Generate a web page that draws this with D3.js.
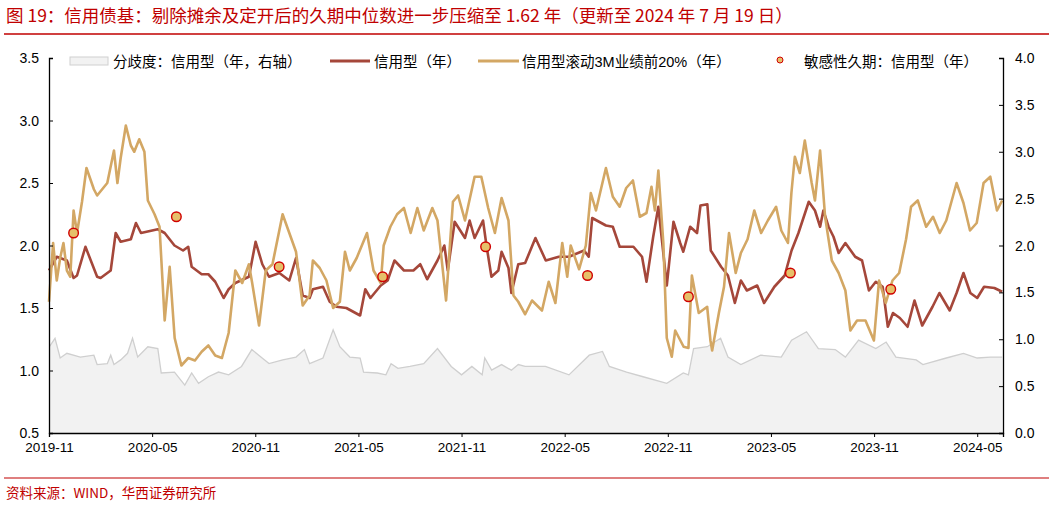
<!DOCTYPE html>
<html><head><meta charset="utf-8">
<script src="https://cdn.jsdelivr.net/npm/d3@7"></script>
<style>body{margin:0;background:#fff}svg{display:block;font-family:"Liberation Sans",Arial,"Noto Sans CJK SC",sans-serif}</style>
</head><body><svg id="c" width="1053" height="508"></svg>
<script>
// months since 2019-11
const xTickMonths = [0,6,12,18,24,30,36,42,48,54];
const xTickLabels = ["2019-11","2020-05","2020-11","2021-05","2021-11","2022-05","2022-11","2023-05","2023-11","2024-05"];
const leftTicks = [0.5,1.0,1.5,2.0,2.5,3.0,3.5];
const rightTicks = [0.0,0.5,1.0,1.5,2.0,2.5,3.0,3.5,4.0];

const creditMonths = [0,0.45,1.04,1.43,1.63,2.12,2.8,3.0,3.59,3.88,4.17,4.76,5.06,5.35,6.33,6.73,7.3,7.8,8.1,8.3,8.88,9.27,9.67,10.16,10.45,10.84,11.63,12.02,12.41,12.8,13.4,13.98,14.37,14.76,15.16,15.35,15.94,16.33,16.73,17.3,18.1,18.4,18.7,19.3,19.7,20.1,20.65,21.2,21.6,22.0,22.6,23.0,23.2,23.6,24.2,24.47,24.76,25.25,25.45,25.74,26.14,26.33,26.73,26.9,27.3,
27.7,28.3,28.9,29.66,30.25,31.13,31.4,31.6,32.4,32.8,33.2,34.0,34.5,34.76,35.15,35.45,35.94,36.33,36.72,36.9,37.3,37.7,37.9,38.3,38.5,39.1,39.5,39.9,40.25,40.6,41.2,41.6,42.2,42.8,43.2,43.6,44.2,44.56,44.86,45.05,45.35,45.64,45.94,46.33,46.9,47.3,47.7,48.1,48.5,48.8,49.1,49.5,49.95,50.35,50.8,51.4,51.8,52.4,52.8,53.2,53.6,54.0,54.4,55.0,55.45];
const creditValues = [1.80,1.91,1.88,1.74,1.76,1.99,1.75,1.74,1.8,2.1,2.03,2.05,2.18,2.1,2.13,2.1,2.0,1.96,1.99,1.83,1.77,1.77,1.71,1.58,1.65,1.7,1.75,2.03,1.85,1.75,1.78,1.72,1.9,1.6,1.58,1.65,1.67,1.55,1.51,1.5,1.44,1.65,1.58,1.68,1.72,1.88,1.8,1.8,1.85,1.73,1.88,2.0,1.8,2.19,2.06,2.2,2.06,2.2,2.0,1.75,1.8,1.95,1.82,1.62,1.85,
1.86,2.06,1.88,1.91,1.91,1.96,1.91,2.22,2.16,2.15,1.99,1.99,1.91,1.71,2.07,2.31,1.68,2.19,2.02,1.95,2.15,2.1,2.32,2.33,1.96,1.83,1.76,1.54,1.72,1.64,1.68,1.54,1.67,1.76,1.96,2.1,2.35,2.28,2.15,2.28,2.15,2.07,1.94,2.02,1.91,1.88,1.64,1.71,1.67,1.35,1.46,1.42,1.35,1.56,1.36,1.51,1.62,1.48,1.62,1.78,1.62,1.58,1.67,1.66,1.63];

const topMonths = [0,0.24,0.45,0.65,0.84,1.04,1.24,1.43,1.63,1.92,2.18,2.61,2.8,3.39,3.78,3.98,4.17,4.47,4.76,4.96,5.25,5.55,5.75,6.14,6.43,6.73,7.02,7.31,7.7,8.1,8.49,8.88,9.27,9.67,10.06,10.45,10.84,11.24,11.63,11.82,12.22,12.61,13.0,13.59,13.98,14.37,14.76,15.16,15.35,15.75,16.14,16.53,16.92,17.22,17.5,17.9,18.5,18.88,19.3,19.47,19.86,20.25,20.65,21.04,21.43,21.8,22.3,22.6,23.1,23.5,23.8,24.2,24.76,25.15,25.55,25.94,26.33,26.73,27.02,27.3,27.7,
28.1,28.68,29.07,29.46,29.86,30.15,30.35,30.84,31.23,31.52,31.82,32.4,32.8,33.2,33.58,33.97,34.37,34.76,35.05,35.25,35.45,35.74,35.94,36.23,36.43,36.92,37.2,37.4,37.8,38.29,38.48,38.58,38.97,39.27,39.56,39.95,40.25,40.64,41.03,41.43,41.82,42.3,42.6,42.99,43.19,43.39,43.68,43.97,44.37,44.56,44.86,45.15,45.54,45.94,46.33,46.62,47.01,47.5,47.99,48.29,48.68,49.07,49.46,49.86,50.15,50.54,51.03,51.43,51.82,52.2,52.8,53.2,53.58,53.97,54.37,54.76,55.15,55.45];
const topValues = [1.55,2.02,1.72,1.9,2.02,1.8,1.75,2.28,2.1,2.35,2.62,2.45,2.4,2.5,2.76,2.5,2.7,2.96,2.8,2.75,2.85,2.75,2.36,2.25,2.15,1.4,1.83,1.26,1.04,1.1,1.08,1.15,1.2,1.12,1.1,1.3,1.8,1.7,1.85,1.7,1.36,1.8,1.85,2.25,2.1,1.95,1.52,1.6,1.88,1.82,1.72,1.5,1.55,1.95,1.8,1.9,2.1,1.8,1.7,2.0,2.15,2.25,2.3,2.1,2.3,2.12,2.3,2.2,1.56,2.35,2.4,2.2,2.55,2.55,2.3,2.1,2.38,2.2,1.6,1.55,1.45,
1.56,1.48,1.71,1.54,2.02,1.75,2.0,1.81,2.0,2.42,2.28,2.62,2.39,2.31,2.46,2.52,2.23,2.26,2.47,2.28,2.6,2.02,1.26,1.11,1.32,1.19,1.18,1.76,1.46,1.51,1.24,1.16,1.46,1.67,2.1,1.78,1.94,2.05,2.28,2.1,2.2,2.31,2.12,2.02,2.42,2.71,2.58,2.84,2.5,2.36,2.76,2.23,1.88,1.78,1.64,1.32,1.4,1.4,1.24,1.72,1.54,1.72,1.78,2.05,2.31,2.36,2.15,2.23,2.1,2.2,2.5,2.34,2.12,2.18,2.5,2.55,2.28,2.36];

const divMonths = [0.02,0.35,0.65,1.04,1.82,2.61,2.8,3.39,3.59,3.78,4.17,4.57,4.86,5.16,5.75,6.33,6.53,7.3,7.9,8.3,8.7,9.27,9.86,10.45,11.2,11.8,12.4,12.8,13.6,14.37,14.86,15.16,15.94,16.53,16.92,17.5,18.1,18.3,19.1,19.6,19.9,20.3,21.0,21.8,22.6,23.4,24.0,24.6,25.2,25.35,25.75,26.33,26.9,27.3,
27.7,28.88,30.25,31.43,32.2,32.6,33.6,34.56,35.94,36.9,37.2,37.5,38.3,39.07,39.5,40.25,41.4,42.6,43.2,44.07,44.76,45.74,46.33,47.1,48.1,48.7,49.27,50.45,50.84,52.2,53.2,54.0,54.76,55.45];
const divValues = [0.92,1.01,0.80,0.85,0.81,0.83,0.73,0.74,0.83,0.73,0.78,0.85,1.01,0.81,0.92,0.90,0.64,0.65,0.51,0.64,0.53,0.60,0.65,0.62,0.71,0.89,0.80,0.74,0.78,0.81,0.89,0.74,0.80,1.10,0.92,0.81,0.80,0.65,0.64,0.62,0.74,0.69,0.71,0.74,0.90,0.71,0.62,0.71,0.62,0.80,0.67,0.73,0.67,0.73,
0.71,0.71,0.62,0.83,0.87,0.71,0.65,0.60,0.53,0.64,0.62,0.90,0.92,1.01,0.81,0.73,0.83,0.81,0.99,1.08,0.90,0.89,0.81,0.99,0.90,0.97,0.81,0.78,0.73,0.80,0.85,0.80,0.81,0.81];

const sensMonths = [1.43,7.41,13.39,19.41,25.4,31.33,37.2,43.13,48.97];
const sensValues = [2.10,2.23,1.83,1.75,1.99,1.76,1.59,1.78,1.65];

const legendLabels = ["分歧度：信用型（年，右轴）","信用型（年）","信用型滚动3M业绩前20%（年）","敏感性久期：信用型（年）"];

const svg = d3.select("#c");
const L=49,R=1003,T=58,B=433;
const x = d3.scaleLinear().domain([0,55.5]).range([L,R]);
const y = d3.scaleLinear().domain([0.5,3.5]).range([B,T]);
const y2 = d3.scaleLinear().domain([0,4]).range([B,T]);
const RED="#c00000";

svg.append("text").attr("x",6).attr("y",22).attr("fill",RED).attr("font-size",17.5)
  .attr("font-family","'Noto Sans CJK SC',sans-serif").text("图 19：信用债基：剔除摊余及定开后的久期中位数进一步压缩至 1.62 年（更新至 2024 年 7 月 19 日）");
svg.append("line").attr("x1",4).attr("x2",1049).attr("y1",34).attr("y2",34).attr("stroke",RED).attr("stroke-width",1.5);
svg.append("line").attr("x1",4).attr("x2",1049).attr("y1",478).attr("y2",478).attr("stroke",RED).attr("stroke-width",1.2);
svg.append("text").attr("x",6).attr("y",498).attr("fill",RED).attr("font-size",13.5)
  .attr("font-family","'Noto Sans CJK SC',sans-serif").text("资料来源：WIND，华西证券研究所");

// area
const divData = divMonths.map((m,i)=>[m,divValues[i]]);
svg.append("path").datum(divData).attr("fill","#f2f2f2").attr("stroke","none")
  .attr("d",d3.area().x(d=>x(d[0])).y0(B).y1(d=>y2(d[1])));
svg.append("path").datum(divData).attr("fill","none").attr("stroke","#cfcfcf").attr("stroke-width",1.3)
  .attr("d",d3.line().x(d=>x(d[0])).y(d=>y2(d[1])));

const line = d3.line().x(d=>x(d[0])).y(d=>y(d[1]));
svg.append("path").datum(creditMonths.map((m,i)=>[m,creditValues[i]])).attr("fill","none").attr("stroke","#a5473a").attr("stroke-width",2.6).attr("stroke-linejoin","round").attr("d",line);
svg.append("path").datum(topMonths.map((m,i)=>[m,topValues[i]])).attr("fill","none").attr("stroke","#d3a764").attr("stroke-width",2.6).attr("stroke-linejoin","round").attr("d",line);
svg.selectAll("circle.s").data(sensMonths).join("circle").attr("cx",d=>x(d)).attr("cy",(d,i)=>y(sensValues[i])).attr("r",4.8)
  .attr("fill","#e6c06a").attr("stroke","#d00000").attr("stroke-width",1.4);

// axes
const ga = svg.append("g").attr("transform",`translate(${L},0)`).call(d3.axisRight(y).tickValues(leftTicks).tickSize(4));
ga.selectAll(".tick text").remove();
ga.selectAll("text.l").data(leftTicks).join("text").attr("class","l").attr("fill","#000").attr("x",-10).attr("y",d=>y(d)+5).attr("text-anchor","end").attr("font-size",14).text(d3.format(".1f"));
const gr = svg.append("g").attr("transform",`translate(${R},0)`).call(d3.axisLeft(y2).tickValues(rightTicks).tickSize(4));
gr.selectAll(".tick text").remove();
gr.selectAll("text.r").data(rightTicks).join("text").attr("class","r").attr("fill","#000").attr("x",12).attr("y",d=>y2(d)+5).attr("text-anchor","start").attr("font-size",14).text(d3.format(".1f"));
const gb = svg.append("g").attr("transform",`translate(0,${B})`).call(d3.axisBottom(x).tickValues(xTickMonths).tickSize(4).tickFormat((d,i)=>xTickLabels[i]));
gb.selectAll("text").attr("font-size",13.5).attr("dy","0.9em").attr("fill","#000");
[ga,gr,gb].forEach(g=>{g.select(".domain").attr("stroke","#000").attr("stroke-width",1.3);g.selectAll(".tick line").attr("stroke","#000");});

// legend
const lg = svg.append("g").attr("font-size",14.5);
lg.append("rect").attr("x",70).attr("y",57).attr("width",38).attr("height",8).attr("fill","#f2f2f2").attr("stroke","#d0d0d0");
lg.append("text").attr("x",113).attr("y",67).text(legendLabels[0]);
lg.append("line").attr("x1",330).attr("x2",370).attr("y1",61).attr("y2",61).attr("stroke","#a5473a").attr("stroke-width",3);
lg.append("text").attr("x",374).attr("y",67).text(legendLabels[1]);
lg.append("line").attr("x1",478).attr("x2",519).attr("y1",61).attr("y2",61).attr("stroke","#d3a764").attr("stroke-width",3);
lg.append("text").attr("x",522).attr("y",67).text(legendLabels[2]);
lg.append("circle").attr("cx",780).attr("cy",60).attr("r",3).attr("fill","#e6c06a").attr("stroke","#d00000").attr("stroke-width",1);
lg.append("text").attr("x",804).attr("y",67).text(legendLabels[3]);
</script></body></html>
